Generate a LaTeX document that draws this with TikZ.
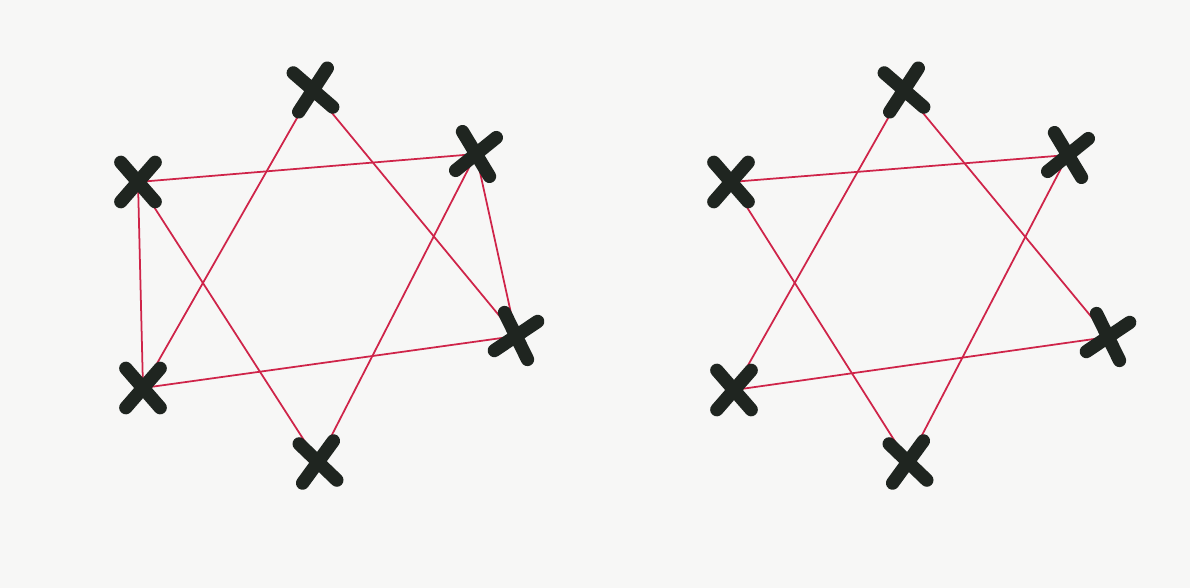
\documentclass[tikz,border=0pt]{standalone}
\usepackage{xcolor}
\usepackage{tikz}
\usetikzlibrary{shapes.misc,backgrounds}
\definecolor{paper}{HTML}{F7F7F6}
\definecolor{ink}{HTML}{1F2520}
\definecolor{thread}{HTML}{CF2449}

\begin{document}
\begin{tikzpicture}[
  x=0.02cm, y=-0.02cm,
  xmark/.style={cross out,draw=ink,line width=7.6pt,line cap=round,
    minimum width=0.42cm,minimum height=0.52cm,inner sep=0pt},
  edge/.style={thread,line width=1pt}
]
\useasboundingbox (0,0) rectangle (1190,588);
% left star: hexagram plus two extra sides
\node[xmark,rotate=8] (la) at (313,90) {};
\node[xmark,rotate=-10] (lb) at (476,154) {};
\node[xmark] (lc) at (138,182) {};
\node[xmark,rotate=-15] (ld) at (516,336) {};
\node[xmark] (le) at (143,388) {};
\node[xmark,rotate=5] (lf) at (318,462) {};
% right star: plain hexagram
\node[xmark,rotate=8] (ra) at (904,90) {};
\node[xmark,rotate=-10] (rb) at (1068,155) {};
\node[xmark] (rc) at (731,182) {};
\node[xmark,rotate=-15] (rd) at (1108,337) {};
\node[xmark] (re) at (734,390) {};
\node[xmark,rotate=5] (rf) at (908,462) {};
\begin{scope}[on background layer]
\fill[paper] (0,0) rectangle (1190,588);
\foreach \u/\v in {lc/lb,lb/lf,lf/lc,la/le,le/ld,ld/la,lc/le,lb/ld}
  \draw[edge] (\u.center) -- (\v.center);
\foreach \u/\v in {rc/rb,rb/rf,rf/rc,ra/re,re/rd,rd/ra}
  \draw[edge] (\u.center) -- (\v.center);
\end{scope}
\end{tikzpicture}
\end{document}
